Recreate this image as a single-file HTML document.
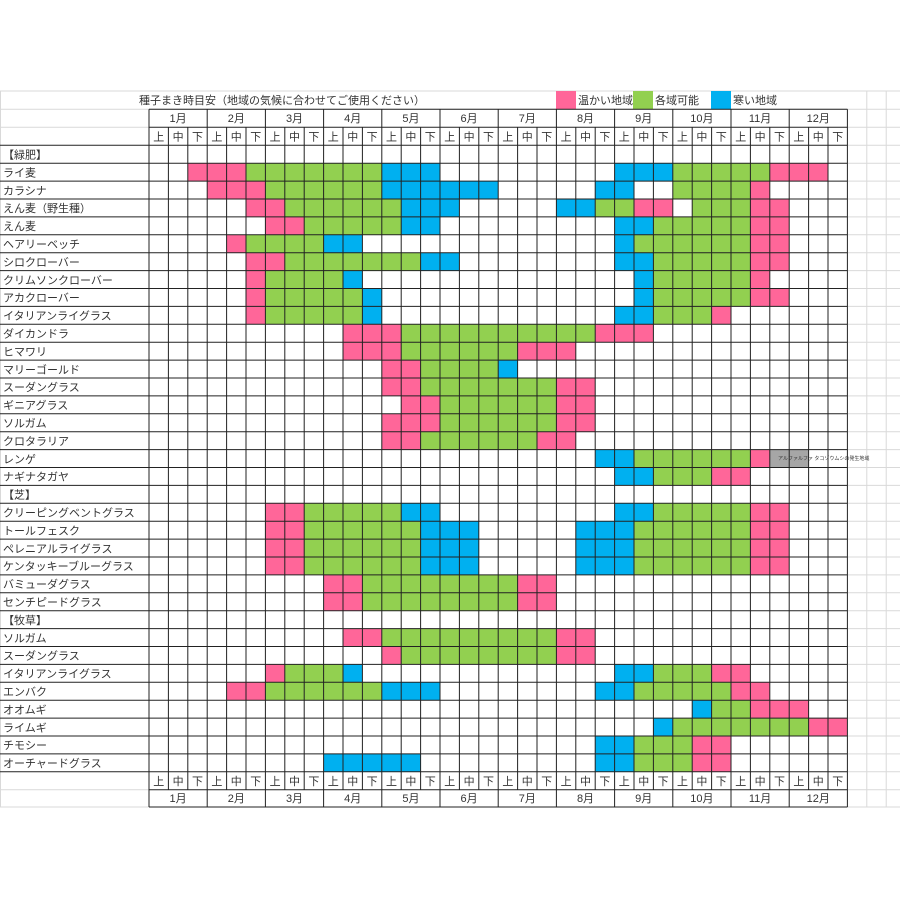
<!DOCTYPE html>
<html><head><meta charset="utf-8"><style>
html,body{margin:0;padding:0;background:#fff;}
svg{display:block;}
text{font-family:"Liberation Sans","Noto Sans CJK JP",sans-serif;fill:#333;}
</style></head><body>
<svg width="900" height="900" viewBox="0 0 900 900" xmlns="http://www.w3.org/2000/svg">
<rect width="900" height="900" fill="#fff"/>
<!-- light grid -->
<g stroke="#d9d9d9" stroke-width="1">
<line x1="0" y1="91" x2="900" y2="91"/>
<line x1="0" y1="109.3" x2="900" y2="109.3"/>
<line x1="0" y1="127.3" x2="149" y2="127.3"/>
<line x1="0" y1="789.7" x2="149" y2="789.7"/>
<line x1="0" y1="807" x2="149" y2="807"/>
<line x1="0.5" y1="91" x2="0.5" y2="807"/>
<line x1="866.8" y1="91" x2="866.8" y2="807"/>
<line x1="886.2" y1="91" x2="886.2" y2="807"/>
<line x1="847" y1="127.3" x2="900" y2="127.3"/>
<line x1="847" y1="771.8" x2="900" y2="771.8"/>
<line x1="847" y1="789.7" x2="900" y2="789.7"/>
<line x1="847" y1="807" x2="900" y2="807"/>
</g>
<g stroke="#d9d9d9" stroke-width="1">
<path d="M847 145.3H900M847 163.2H900M847 181.1H900M847 199H900M847 216.9H900M847 234.8H900M847 252.7H900M847 270.6H900M847 288.5H900M847 306.4H900M847 324.3H900M847 342.2H900M847 360.1H900M847 378H900M847 395.9H900M847 413.8H900M847 431.7H900M847 449.6H900M847 467.5H900M847 485.4H900M847 503.3H900M847 521.2H900M847 539.1H900M847 557H900M847 574.9H900M847 592.8H900M847 610.7H900M847 628.6H900M847 646.5H900M847 664.4H900M847 682.3H900M847 700.2H900M847 718.1H900M847 736H900M847 753.9H900"/>
</g>
<!-- legend -->
<rect x="556" y="91" width="20" height="18" fill="#FF6699"/>
<rect x="633" y="91" width="20" height="18" fill="#92D050"/>
<rect x="711" y="91" width="20" height="18" fill="#00B0F0"/>
<text x="578" y="104" font-size="11">温かい地域</text>
<text x="655" y="104" font-size="11">各域可能</text>
<text x="733" y="104" font-size="11">寒い地域</text>
<text x="139" y="104" font-size="11">種子まき時目安（地域の気候に合わせてご使用ください）</text>
<!-- cells -->
<g transform="translate(149,145.3) scale(19.4,17.9)">
<g fill="#FF6699">
<rect x="2" y="1" width="3" height="1"/><rect x="32" y="1" width="3" height="1"/>
<rect x="3" y="2" width="3" height="1"/><rect x="31" y="2" width="1" height="1"/>
<rect x="5" y="3" width="2" height="1"/><rect x="25" y="3" width="2" height="1"/><rect x="31" y="3" width="2" height="1"/>
<rect x="6" y="4" width="2" height="1"/><rect x="31" y="4" width="2" height="1"/>
<rect x="4" y="5" width="1" height="1"/><rect x="31" y="5" width="2" height="1"/>
<rect x="5" y="6" width="2" height="1"/><rect x="31" y="6" width="2" height="1"/>
<rect x="5" y="7" width="1" height="1"/><rect x="31" y="7" width="1" height="1"/>
<rect x="5" y="8" width="1" height="1"/><rect x="31" y="8" width="2" height="1"/>
<rect x="5" y="9" width="1" height="1"/><rect x="29" y="9" width="1" height="1"/>
<rect x="10" y="10" width="3" height="1"/><rect x="23" y="10" width="3" height="1"/>
<rect x="10" y="11" width="3" height="1"/><rect x="19" y="11" width="3" height="1"/>
<rect x="12" y="12" width="2" height="1"/>
<rect x="12" y="13" width="2" height="1"/><rect x="21" y="13" width="2" height="1"/>
<rect x="13" y="14" width="2" height="1"/><rect x="21" y="14" width="2" height="1"/>
<rect x="12" y="15" width="3" height="1"/><rect x="21" y="15" width="2" height="1"/>
<rect x="12" y="16" width="2" height="1"/><rect x="20" y="16" width="2" height="1"/>
<rect x="31" y="17" width="1" height="1"/>
<rect x="29" y="18" width="2" height="1"/>
<rect x="6" y="20" width="2" height="1"/><rect x="31" y="20" width="2" height="1"/>
<rect x="6" y="21" width="2" height="3"/><rect x="31" y="21" width="2" height="3"/>
<rect x="9" y="24" width="2" height="2"/><rect x="19" y="24" width="2" height="2"/>
<rect x="10" y="27" width="2" height="1"/><rect x="21" y="27" width="2" height="1"/>
<rect x="12" y="28" width="1" height="1"/><rect x="21" y="28" width="2" height="1"/>
<rect x="6" y="29" width="1" height="1"/><rect x="29" y="29" width="2" height="1"/>
<rect x="4" y="30" width="2" height="1"/><rect x="30" y="30" width="2" height="1"/>
<rect x="31" y="31" width="3" height="1"/>
<rect x="34" y="32" width="2" height="1"/>
<rect x="28" y="33" width="2" height="2"/>
</g>
<g fill="#92D050">
<rect x="5" y="1" width="7" height="1"/><rect x="27" y="1" width="5" height="1"/>
<rect x="6" y="2" width="6" height="1"/><rect x="27" y="2" width="4" height="1"/>
<rect x="7" y="3" width="6" height="1"/><rect x="23" y="3" width="2" height="1"/><rect x="28" y="3" width="3" height="1"/>
<rect x="8" y="4" width="5" height="1"/><rect x="26" y="4" width="5" height="1"/>
<rect x="5" y="5" width="4" height="1"/><rect x="25" y="5" width="6" height="1"/>
<rect x="7" y="6" width="7" height="1"/><rect x="26" y="6" width="5" height="1"/>
<rect x="6" y="7" width="4" height="1"/><rect x="26" y="7" width="5" height="1"/>
<rect x="6" y="8" width="5" height="1"/><rect x="26" y="8" width="5" height="1"/>
<rect x="6" y="9" width="5" height="1"/><rect x="26" y="9" width="3" height="1"/>
<rect x="13" y="10" width="10" height="1"/>
<rect x="13" y="11" width="6" height="1"/>
<rect x="14" y="12" width="4" height="1"/>
<rect x="14" y="13" width="7" height="1"/>
<rect x="15" y="14" width="6" height="2"/>
<rect x="14" y="16" width="6" height="1"/>
<rect x="25" y="17" width="6" height="1"/>
<rect x="26" y="18" width="3" height="1"/>
<rect x="8" y="20" width="5" height="1"/><rect x="26" y="20" width="5" height="1"/>
<rect x="8" y="21" width="6" height="3"/><rect x="25" y="21" width="6" height="3"/>
<rect x="11" y="24" width="8" height="2"/>
<rect x="12" y="27" width="9" height="1"/>
<rect x="13" y="28" width="8" height="1"/>
<rect x="7" y="29" width="3" height="1"/><rect x="26" y="29" width="3" height="1"/>
<rect x="6" y="30" width="6" height="1"/><rect x="25" y="30" width="5" height="1"/>
<rect x="29" y="31" width="2" height="1"/>
<rect x="27" y="32" width="7" height="1"/>
<rect x="25" y="33" width="3" height="2"/>
</g>
<g fill="#00B0F0">
<rect x="12" y="1" width="3" height="1"/><rect x="24" y="1" width="3" height="1"/>
<rect x="12" y="2" width="6" height="1"/><rect x="23" y="2" width="2" height="1"/>
<rect x="13" y="3" width="3" height="1"/><rect x="21" y="3" width="2" height="1"/>
<rect x="13" y="4" width="2" height="1"/><rect x="24" y="4" width="2" height="1"/>
<rect x="9" y="5" width="2" height="1"/><rect x="24" y="5" width="1" height="1"/>
<rect x="14" y="6" width="2" height="1"/><rect x="24" y="6" width="2" height="1"/>
<rect x="10" y="7" width="1" height="1"/><rect x="25" y="7" width="1" height="1"/>
<rect x="11" y="8" width="1" height="1"/><rect x="25" y="8" width="1" height="1"/>
<rect x="11" y="9" width="1" height="1"/><rect x="24" y="9" width="2" height="1"/>
<rect x="18" y="12" width="1" height="1"/>
<rect x="23" y="17" width="2" height="1"/>
<rect x="24" y="18" width="2" height="1"/>
<rect x="13" y="20" width="2" height="1"/><rect x="24" y="20" width="2" height="1"/>
<rect x="14" y="21" width="3" height="3"/><rect x="22" y="21" width="3" height="3"/>
<rect x="10" y="29" width="1" height="1"/><rect x="24" y="29" width="2" height="1"/>
<rect x="12" y="30" width="3" height="1"/><rect x="23" y="30" width="2" height="1"/>
<rect x="28" y="31" width="1" height="1"/>
<rect x="26" y="32" width="1" height="1"/>
<rect x="23" y="33" width="2" height="2"/>
<rect x="9" y="34" width="5" height="1"/>
</g>
<rect x="32" y="17" width="2" height="1" fill="#A6A6A6"/>
</g>
<!-- dark grid -->
<g stroke="#222" stroke-width="1" fill="none">
<path d="M149 109.3H847.4M149 127.3H847.4M149 789.7H847.4M149 807H847.4"/>
<path d="M0 145.3H847.4M0 163.2H847.4M0 181.1H847.4M0 199H847.4M0 216.9H847.4M0 234.8H847.4M0 252.7H847.4M0 270.6H847.4M0 288.5H847.4M0 306.4H847.4M0 324.3H847.4M0 342.2H847.4M0 360.1H847.4M0 378H847.4M0 395.9H847.4M0 413.8H847.4M0 431.7H847.4M0 449.6H847.4M0 467.5H847.4M0 485.4H847.4M0 503.3H847.4M0 521.2H847.4M0 539.1H847.4M0 557H847.4M0 574.9H847.4M0 592.8H847.4M0 610.7H847.4M0 628.6H847.4M0 646.5H847.4M0 664.4H847.4M0 682.3H847.4M0 700.2H847.4M0 718.1H847.4M0 736H847.4M0 753.9H847.4M0 771.8H847.4"/>
<path d="M149 109.3V807M207.2 109.3V807M265.4 109.3V807M323.6 109.3V807M381.8 109.3V807M440 109.3V807M498.2 109.3V807M556.4 109.3V807M614.6 109.3V807M672.8 109.3V807M731 109.3V807M789.2 109.3V807M847.4 109.3V807"/>
<path d="M168.4 127.3V789.7M187.8 127.3V789.7M226.6 127.3V789.7M246 127.3V789.7M284.8 127.3V789.7M304.2 127.3V789.7M343 127.3V789.7M362.4 127.3V789.7M401.2 127.3V789.7M420.6 127.3V789.7M459.4 127.3V789.7M478.8 127.3V789.7M517.6 127.3V789.7M537 127.3V789.7M575.8 127.3V789.7M595.2 127.3V789.7M634 127.3V789.7M653.4 127.3V789.7M692.2 127.3V789.7M711.6 127.3V789.7M750.4 127.3V789.7M769.8 127.3V789.7M808.6 127.3V789.7M828 127.3V789.7"/>
</g>
<text x="778" y="460" font-size="5">アルファルファ タコゾウムシの発生地域</text>
<!-- month labels -->
<g font-size="11" text-anchor="middle">
<text x="178.1" y="122">1月</text><text x="236.3" y="122">2月</text><text x="294.5" y="122">3月</text><text x="352.7" y="122">4月</text><text x="410.9" y="122">5月</text><text x="469.1" y="122">6月</text><text x="527.3" y="122">7月</text><text x="585.5" y="122">8月</text><text x="643.7" y="122">9月</text><text x="701.9" y="122">10月</text><text x="760.1" y="122">11月</text><text x="818.3" y="122">12月</text>
<text x="178.1" y="802">1月</text><text x="236.3" y="802">2月</text><text x="294.5" y="802">3月</text><text x="352.7" y="802">4月</text><text x="410.9" y="802">5月</text><text x="469.1" y="802">6月</text><text x="527.3" y="802">7月</text><text x="585.5" y="802">8月</text><text x="643.7" y="802">9月</text><text x="701.9" y="802">10月</text><text x="760.1" y="802">11月</text><text x="818.3" y="802">12月</text>
</g>
<g font-size="11" text-anchor="middle">
<text x="158.7" y="140.5">上</text><text x="178.1" y="140.5">中</text><text x="197.5" y="140.5">下</text><text x="216.9" y="140.5">上</text><text x="236.3" y="140.5">中</text><text x="255.7" y="140.5">下</text><text x="275.1" y="140.5">上</text><text x="294.5" y="140.5">中</text><text x="313.9" y="140.5">下</text><text x="333.3" y="140.5">上</text><text x="352.7" y="140.5">中</text><text x="372.1" y="140.5">下</text><text x="391.5" y="140.5">上</text><text x="410.9" y="140.5">中</text><text x="430.3" y="140.5">下</text><text x="449.7" y="140.5">上</text><text x="469.1" y="140.5">中</text><text x="488.5" y="140.5">下</text><text x="507.9" y="140.5">上</text><text x="527.3" y="140.5">中</text><text x="546.7" y="140.5">下</text><text x="566.1" y="140.5">上</text><text x="585.5" y="140.5">中</text><text x="604.9" y="140.5">下</text><text x="624.3" y="140.5">上</text><text x="643.7" y="140.5">中</text><text x="663.1" y="140.5">下</text><text x="682.5" y="140.5">上</text><text x="701.9" y="140.5">中</text><text x="721.3" y="140.5">下</text><text x="740.7" y="140.5">上</text><text x="760.1" y="140.5">中</text><text x="779.5" y="140.5">下</text><text x="798.9" y="140.5">上</text><text x="818.3" y="140.5">中</text><text x="837.7" y="140.5">下</text>
<text x="158.7" y="785">上</text><text x="178.1" y="785">中</text><text x="197.5" y="785">下</text><text x="216.9" y="785">上</text><text x="236.3" y="785">中</text><text x="255.7" y="785">下</text><text x="275.1" y="785">上</text><text x="294.5" y="785">中</text><text x="313.9" y="785">下</text><text x="333.3" y="785">上</text><text x="352.7" y="785">中</text><text x="372.1" y="785">下</text><text x="391.5" y="785">上</text><text x="410.9" y="785">中</text><text x="430.3" y="785">下</text><text x="449.7" y="785">上</text><text x="469.1" y="785">中</text><text x="488.5" y="785">下</text><text x="507.9" y="785">上</text><text x="527.3" y="785">中</text><text x="546.7" y="785">下</text><text x="566.1" y="785">上</text><text x="585.5" y="785">中</text><text x="604.9" y="785">下</text><text x="624.3" y="785">上</text><text x="643.7" y="785">中</text><text x="663.1" y="785">下</text><text x="682.5" y="785">上</text><text x="701.9" y="785">中</text><text x="721.3" y="785">下</text><text x="740.7" y="785">上</text><text x="760.1" y="785">中</text><text x="779.5" y="785">下</text><text x="798.9" y="785">上</text><text x="818.3" y="785">中</text><text x="837.7" y="785">下</text>
</g>
<!-- row labels -->
<g font-size="11">
<text x="3" y="158.5">【緑肥】</text>
<text x="3" y="176.4">ライ麦</text>
<text x="3" y="194.3">カラシナ</text>
<text x="3" y="212.2">えん麦（野生種）</text>
<text x="3" y="230.1">えん麦</text>
<text x="3" y="248">ヘアリーベッチ</text>
<text x="3" y="265.9">シロクローバー</text>
<text x="3" y="283.8">クリムソンクローバー</text>
<text x="3" y="301.7">アカクローバー</text>
<text x="3" y="319.6">イタリアンライグラス</text>
<text x="3" y="337.5">ダイカンドラ</text>
<text x="3" y="355.4">ヒマワリ</text>
<text x="3" y="373.3">マリーゴールド</text>
<text x="3" y="391.2">スーダングラス</text>
<text x="3" y="409.1">ギニアグラス</text>
<text x="3" y="427">ソルガム</text>
<text x="3" y="444.9">クロタラリア</text>
<text x="3" y="462.8">レンゲ</text>
<text x="3" y="480.7">ナギナタガヤ</text>
<text x="3" y="498.6">【芝】</text>
<text x="3" y="516.5">クリーピングベントグラス</text>
<text x="3" y="534.4">トールフェスク</text>
<text x="3" y="552.3">ペレニアルライグラス</text>
<text x="3" y="570.2">ケンタッキーブルーグラス</text>
<text x="3" y="588.1">バミューダグラス</text>
<text x="3" y="606">センチピードグラス</text>
<text x="3" y="623.9">【牧草】</text>
<text x="3" y="641.8">ソルガム</text>
<text x="3" y="659.7">スーダングラス</text>
<text x="3" y="677.6">イタリアンライグラス</text>
<text x="3" y="695.5">エンバク</text>
<text x="3" y="713.4">オオムギ</text>
<text x="3" y="731.3">ライムギ</text>
<text x="3" y="749.2">チモシー</text>
<text x="3" y="767.1">オーチャードグラス</text>
</g>
</svg>
</body></html>
